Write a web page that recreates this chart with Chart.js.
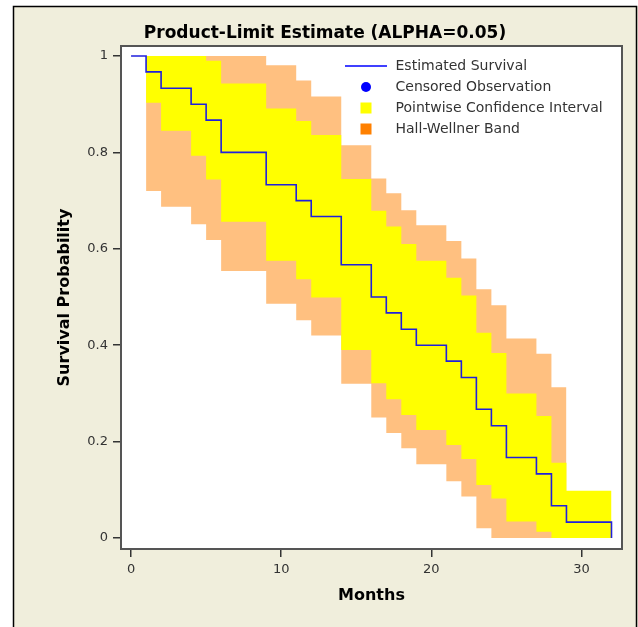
<!DOCTYPE html>
<html>
<head>
<meta charset="utf-8">
<title>Product-Limit Estimate</title>
<script src="https://cdn.jsdelivr.net/npm/chart.js@4.4.1/dist/chart.umd.min.js"></script>
<style>
  html, body { margin: 0; padding: 0; background: #fff; }
  canvas { display: block; }
</style>
</head>
<body>
<canvas id="kmChart" width="638" height="627"></canvas>
<script>
// Kaplan-Meier 生存估计 (months)
const eventTimes = [0, 1, 2, 4, 5, 6, 9, 11, 12, 14, 16, 17, 18, 19, 21, 22, 23, 24, 25, 27, 28, 29, 32];
const survival = [1, 0.967, 0.933, 0.9, 0.867, 0.8, 0.733, 0.7, 0.667, 0.567, 0.5, 0.467, 0.433, 0.4,
  0.367, 0.333, 0.267, 0.233, 0.167, 0.133, 0.067, 0.033, 0];

// pointwise interval: one value per interval between bandTimes
const pwTimes = [1, 2, 4, 5, 6, 9, 11, 12, 14, 16, 17, 18, 19, 21, 22, 23, 24, 25, 27, 28, 29, 32];
const pwLower = [0.903, 0.845, 0.793, 0.744, 0.656, 0.575, 0.537, 0.499, 0.39, 0.321, 0.288, 0.255,
  0.224, 0.193, 0.164, 0.11, 0.082, 0.034, 0.013, 0, 0];
const pwUpper = [1, 1, 1, 0.99, 0.943, 0.891, 0.865, 0.836, 0.745, 0.679, 0.646, 0.61,
  0.575, 0.54, 0.503, 0.426, 0.384, 0.3, 0.253, 0.156, 0.098];

// Hall-Wellner band
const hwTimes = [1, 2, 4, 5, 6, 9, 11, 12, 14, 16, 17, 18, 19, 21, 22, 23, 24, 25, 27, 28, 29];
const hwLower = [0.72, 0.687, 0.651, 0.618, 0.554, 0.486, 0.452, 0.42, 0.32, 0.25, 0.218, 0.186,
  0.153, 0.118, 0.086, 0.02, 0, 0, 0, 0];
const hwUpper = [1, 1, 1, 1, 1, 0.981, 0.949, 0.916, 0.815, 0.746, 0.715, 0.68,
  0.649, 0.616, 0.58, 0.516, 0.483, 0.414, 0.382, 0.313];

const xTicks = [0, 10, 20, 30];
const yTicks = [0, 0.2, 0.4, 0.6, 0.8, 1];
const yTickLabels = ['0', '0.2', '0.4', '0.6', '0.8', '1'];

const TITLE = 'Product-Limit Estimate (ALPHA=0.05)';
const PAGE_BG = '#F0EEDC';
const FONT = '"DejaVu Sans", sans-serif';

const legendItems = [
  { text: 'Estimated Survival', kind: 'line', color: '#0000FF' },
  { text: 'Censored Observation', kind: 'dot', color: '#0000FF' },
  { text: 'Pointwise Confidence Interval', kind: 'box', color: '#FFFF00' },
  { text: 'Hall-Wellner Band', kind: 'box', color: '#FF8000' }
];

/**
 * 阶梯点: 每个区间 [t[i], t[i+1]) 取 v[i]
 */
function bandSteps(times, values) {
  const pts = [];
  values.forEach((v, i) => {
    pts.push({ x: times[i], y: v });
    pts.push({ x: times[i + 1], y: v });
  });
  return pts;
}

// survival curve: level s[i-1] until t[i], then drop to s[i]
function curveSteps(times, values) {
  const pts = [{ x: times[0], y: values[0] }];
  for (let i = 1; i < times.length; i++) {
    pts.push({ x: times[i], y: values[i - 1] });
    pts.push({ x: times[i], y: values[i] });
  }
  return pts;
}

const hidden = 'rgba(0,0,0,0)';

const kmDecor = {
  id: 'kmDecor',
  beforeDraw(chart) {
    const { ctx, width, height, chartArea: a } = chart;
    ctx.save();
    ctx.fillStyle = '#FFFFFF';
    ctx.fillRect(0, 0, width, height);
    ctx.fillStyle = PAGE_BG;
    ctx.fillRect(13, 6, width - 13, height);
    ctx.strokeStyle = '#000';
    ctx.lineWidth = 1.5;
    ctx.strokeRect(13.5, 6.5, width - 15, height + 10);

    ctx.fillStyle = '#FFFFFF';
    ctx.fillRect(a.left, a.top, a.right - a.left, a.bottom - a.top);

    ctx.fillStyle = '#000';
    ctx.font = 'bold 17px ' + FONT;
    ctx.textAlign = 'center';
    ctx.textBaseline = 'middle';
    ctx.fillText(TITLE, 325, 34);
    ctx.restore();
  },
  afterDatasetsDraw(chart) {
    const { ctx, chartArea: a } = chart;
    ctx.save();
    ctx.strokeStyle = '#555';
    ctx.lineWidth = 2;
    ctx.strokeRect(a.left, a.top, a.right - a.left, a.bottom - a.top);

    // legend inside plot, top right
    ctx.font = '14px ' + FONT;
    ctx.textAlign = 'left';
    ctx.textBaseline = 'middle';
    legendItems.forEach((item, i) => {
      const y = a.top + 20 + i * 21;
      const cx = a.left + 245;
      if (item.kind === 'line') {
        ctx.strokeStyle = item.color;
        ctx.lineWidth = 1.5;
        ctx.beginPath();
        ctx.moveTo(a.left + 224, y);
        ctx.lineTo(a.left + 266, y);
        ctx.stroke();
      } else if (item.kind === 'dot') {
        ctx.fillStyle = item.color;
        ctx.beginPath();
        ctx.arc(cx, y, 5, 0, Math.PI * 2);
        ctx.fill();
      } else {
        ctx.fillStyle = item.color;
        ctx.fillRect(cx - 5.5, y - 5.5, 11, 11);
      }
      ctx.fillStyle = '#333';
      ctx.fillText(item.text, a.left + 274.5, y);
    });
    ctx.restore();
  }
};

new Chart(document.getElementById('kmChart'), {
  type: 'line',
  data: {
    datasets: [
      { data: bandSteps(hwTimes, hwLower), order: 3, borderColor: hidden, borderWidth: 0, fill: false },
      { data: bandSteps(hwTimes, hwUpper), order: 3, borderColor: hidden, borderWidth: 0,
        fill: '-1', backgroundColor: '#FFC080' },
      { data: bandSteps(pwTimes, pwLower), order: 2, borderColor: hidden, borderWidth: 0, fill: false },
      { data: bandSteps(pwTimes, pwUpper), order: 2, borderColor: hidden, borderWidth: 0,
        fill: '-1', backgroundColor: '#FFFF00' },
      { data: curveSteps(eventTimes, survival), order: 1, borderColor: '#2020DD', borderWidth: 1.6, fill: false }
    ]
  },
  options: {
    responsive: false,
    animation: false,
    devicePixelRatio: 1,
    events: [],
    layout: { padding: { top: 46, right: 16, bottom: 0, left: 0 } },
    elements: { point: { radius: 0 }, line: { tension: 0 } },
    plugins: { legend: { display: false }, tooltip: { enabled: false } },
    scales: {
      x: {
        type: 'linear',
        min: -0.67,
        max: 32.7,
        afterBuildTicks: (s) => { s.ticks = xTicks.map(v => ({ value: v })); },
        afterFit: (s) => { s.height = 78; },
        grid: { drawOnChartArea: false, drawTicks: true, tickLength: 8, color: '#333', lineWidth: 1.5 },
        border: { display: false },
        ticks: { color: '#333', font: { family: FONT, size: 13 }, padding: 5, maxRotation: 0 },
        title: { display: true, text: 'Months', color: '#000',
          font: { family: FONT, size: 16, weight: 'bold' }, padding: { top: 0, bottom: 22 } }
      },
      y: {
        type: 'linear',
        min: -0.0228,
        max: 1.0207,
        afterBuildTicks: (s) => { s.ticks = yTicks.map(v => ({ value: v })); },
        afterFit: (s) => { s.width = 121; },
        grid: { drawOnChartArea: false, drawTicks: true, tickLength: 8, color: '#333', lineWidth: 1.5 },
        border: { display: false },
        ticks: {
          color: '#333', font: { family: FONT, size: 13 }, padding: 5,
          callback: (v) => yTickLabels[yTicks.indexOf(v)] ?? ''
        },
        title: { display: true, text: 'Survival Probability', color: '#000',
          font: { family: FONT, size: 16, weight: 'bold' }, padding: { top: 55, bottom: 0 } }
      }
    }
  },
  plugins: [kmDecor]
});
</script>
</body>
</html>
